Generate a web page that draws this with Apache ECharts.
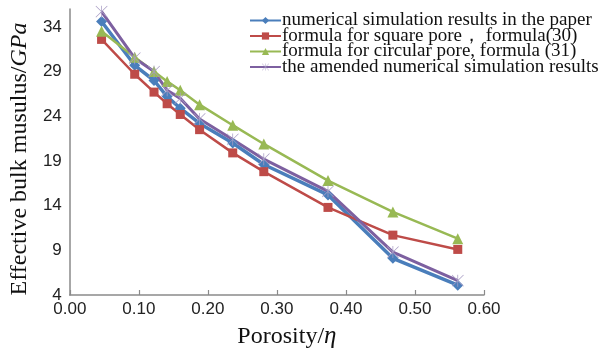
<!DOCTYPE html>
<html><head><meta charset="utf-8">
<script src="https://cdn.jsdelivr.net/npm/echarts@6/dist/echarts.min.js"></script>
<style>html,body{margin:0;padding:0;background:#fff}#c{width:611px;height:355px}</style>
</head><body><div id="c"></div>
<script>
var porosity = [0.046, 0.094, 0.122, 0.141, 0.160, 0.188, 0.236, 0.281, 0.374, 0.468, 0.562];
var paperSim = [34.6, 29.7, 28.0, 26.2, 24.9, 23.2, 21.0, 18.6, 15.2, 8.1, 5.1];
var squarePore = [32.6, 28.7, 26.7, 25.4, 24.2, 22.5, 19.9, 17.8, 13.8, 10.7, 9.1];
var circularPore = [33.5, 30.6, 29.0, 27.9, 26.9, 25.3, 23.0, 20.9, 16.8, 13.3, 10.3];
var amendedSim = [35.7, 30.5, 29.0, 26.9, 26.0, 23.7, 21.4, 19.2, 15.6, 8.8, 5.6];
var seriesNames = ['numerical simulation results in the paper', 'formula for square pore\uff0c formula(30)', 'formula for circular pore, formula (31)', 'the amended numerical simulation results'];
var xTicks = [0, 0.1, 0.2, 0.3, 0.4, 0.5, 0.6];
var yTicks = [4, 9, 14, 19, 24, 29, 34];

function pairs(ys){ return porosity.map(function(x,i){ return [x, ys[i]]; }); }
var starPath = 'path://M9.4 0 L10.6 0 L10.6 20 L9.4 20 Z M0.2 1 L1 0.2 L19.8 19 L19 19.8 Z M19 0.2 L19.8 1 L1 19.8 L0.2 19 Z';

var chart = echarts.init(document.getElementById('c'), null, {renderer:'canvas'});
chart.setOption({
  animation:false,
  backgroundColor:'#fff',
  grid:{left:63, right:127, top:9, bottom:60},
  legend:{
    orient:'vertical', left:244, top:6, itemGap:-3.5, itemWidth:31, itemHeight:9,
    backgroundColor:'#fff',
    textStyle:{fontFamily:'Liberation Serif', fontSize:19, color:'#111', padding:[0,0,0,-4]},
    data:seriesNames
  },
  xAxis:{
    type:'value', min:0, max:0.6, interval:0.1,
    axisLine:{lineStyle:{color:'#8a8a8a', width:1.5}},
    axisTick:{show:true, inside:true, length:5, lineStyle:{color:'#8a8a8a', width:1.2}},
    splitLine:{show:false},
    axisLabel:{fontFamily:'Liberation Sans', fontSize:17, color:'#222', margin:6,
      formatter:function(v){ return xTicks.indexOf(Math.round(v*10)/10) >= 0 ? v.toFixed(2) : ''; }},
    name:'{a|Porosity/}{b|\u03b7}', nameLocation:'middle', nameGap:29,
    nameTextStyle:{padding:[0,0,0,20], rich:{
      a:{fontFamily:'Liberation Serif', fontSize:24, color:'#111'},
      b:{fontFamily:'Liberation Serif', fontSize:25, fontStyle:'italic', color:'#111'}}}
  },
  yAxis:{
    type:'value', min:4, max:36, interval:5,
    axisLine:{show:true, lineStyle:{color:'#8a8a8a', width:1.5}},
    axisTick:{show:false},
    splitLine:{show:false},
    axisLabel:{fontFamily:'Liberation Sans', fontSize:17, color:'#222', margin:8,
      formatter:function(v){ return yTicks.indexOf(v) >= 0 ? String(v) : ''; }},
    name:'{a|Effective bulk musulus/}{b|GPa}', nameLocation:'middle', nameGap:26,
    nameTextStyle:{padding:[0,14,0,0], rich:{
      a:{fontFamily:'Liberation Serif', fontSize:24, color:'#111'},
      b:{fontFamily:'Liberation Serif', fontSize:24, fontStyle:'italic', color:'#111'}}}
  },
  series:[
    {name:seriesNames[0], type:'line', data:pairs(paperSim), symbol:'diamond', symbolSize:11,
      lineStyle:{color:'#4a7ebb', width:3.5}, itemStyle:{color:'#4a7ebb'}},
    {name:seriesNames[1], type:'line', data:pairs(squarePore), symbol:'rect', symbolSize:9,
      lineStyle:{color:'#be4b48', width:2.5}, itemStyle:{color:'#be4b48'}},
    {name:seriesNames[2], type:'line', data:pairs(circularPore), symbol:'triangle', symbolSize:11,
      lineStyle:{color:'#98b954', width:2.5}, itemStyle:{color:'#98b954'}},
    {name:seriesNames[3], type:'line', data:pairs(amendedSim), symbol:starPath, symbolSize:12,
      lineStyle:{color:'#7d60a0', width:3}, itemStyle:{color:'#a89cc4'}}
  ]
});
</script></body></html>
